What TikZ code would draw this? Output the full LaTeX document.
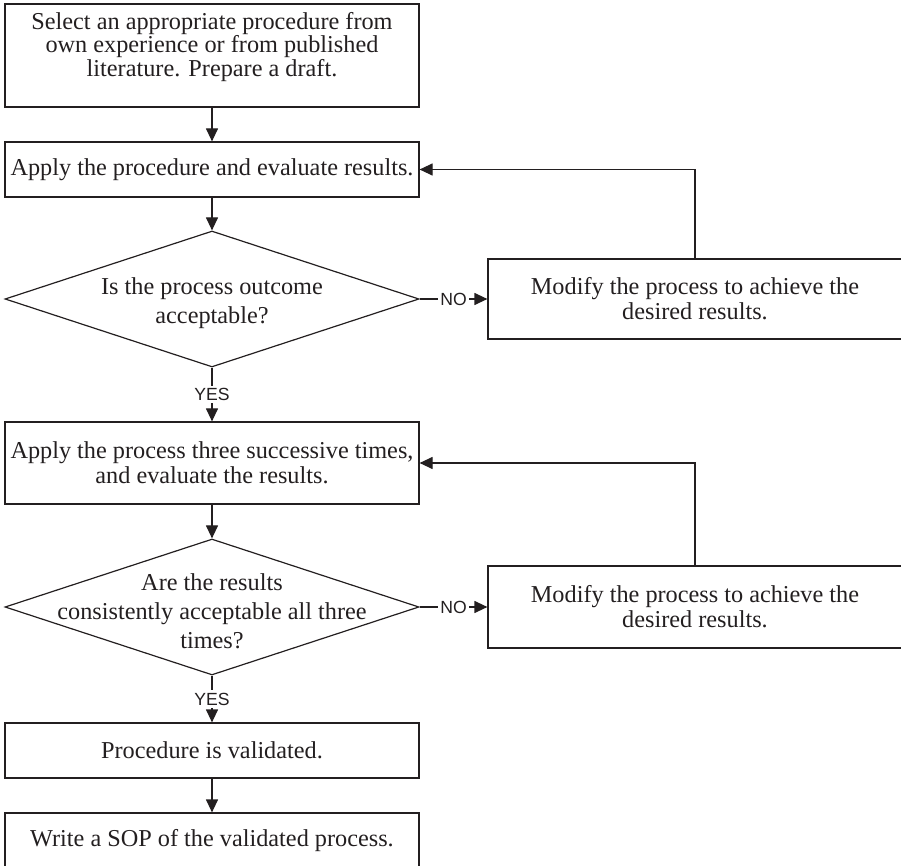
\documentclass[tikz,border=0pt]{standalone}
\usepackage{fontspec}
\setmainfont{Liberation Serif}
\setsansfont{Liberation Sans}
\usetikzlibrary{shapes.geometric,arrows.meta}
\definecolor{ink}{RGB}{35,31,32}
\begin{document}
\begin{tikzpicture}[x=0.75pt,y=-0.75pt,
  line width=0.9pt,
  boxbase/.style={draw=ink, rectangle, inner sep=0pt, minimum width=310.5pt, align=center, text=ink,
    font={\fontsize{18.2}{18.75}\selectfont\lineskiplimit=-30pt}},
  decis/.style={draw=ink, diamond, inner sep=0pt, minimum width=310.5pt, minimum height=102pt},
  qtext/.style={align=center, text=ink, inner sep=0pt, font={\fontsize{18.2}{21.75}\selectfont\lineskiplimit=-30pt}},
  arr/.style={draw=ink, -{Triangle[length=9.75pt,width=9pt]}},
  lab/.style={fill=white, inner sep=2pt, text=ink, font=\sffamily\fontsize{13.2}{14}\selectfont}
]
\useasboundingbox (0,0) rectangle (901,866);
\clip (0,0) rectangle (901,866);

\node[boxbase, minimum height=77.25pt] (b1) at (212,55.5) {};
\node[qtext, font={\fontsize{18.2}{17.6}\selectfont\lineskiplimit=-30pt}] (t1) at (212,47)
  {Select an appropriate procedure from\\own experience or from published\\literature. Prepare a draft.};
\node[boxbase, minimum height=41.25pt] (b2) at (212,169.5) {Apply the procedure and evaluate results.};
\node[decis] (d1) at (212,299) {};
\node[qtext] (q1) at (212,303) {Is the process outcome\\acceptable?};
\node[boxbase, minimum height=60pt] (m1) at (695,299) {Modify the process to achieve the\\desired results.};
\node[boxbase, minimum height=61.5pt] (b3) at (212,463) {Apply the process three successive times,\\and evaluate the results.};
\node[decis] (d2) at (212,607) {};
\node[qtext] (q2) at (212,611) {Are the results\\consistently acceptable all three\\times?};
\node[boxbase, minimum height=61.5pt] (m2) at (695,607) {Modify the process to achieve the\\desired results.};
\node[boxbase, minimum height=41.25pt] (b4) at (212,750.5) {Procedure is validated.};
\node[boxbase, minimum height=41.25pt] (b5) at (212,840.5) {Write a SOP of the validated process.};

\draw[arr] (b1) -- (b2);
\draw[arr] (b2) -- (d1);
\draw[arr] (d1) -- node[lab] {YES} (b3);
\draw[arr] (d1) -- node[lab] {NO} (m1);
\draw[arr] (m1.north) |- (b2.east);
\draw[arr] (b3) -- (d2);
\draw[arr] (d2) -- node[lab] {YES} (b4);
\draw[arr] (d2) -- node[lab] {NO} (m2);
\draw[arr] (m2.north) |- (b3.east);
\draw[arr] (b4) -- (b5);
\end{tikzpicture}
\end{document}
